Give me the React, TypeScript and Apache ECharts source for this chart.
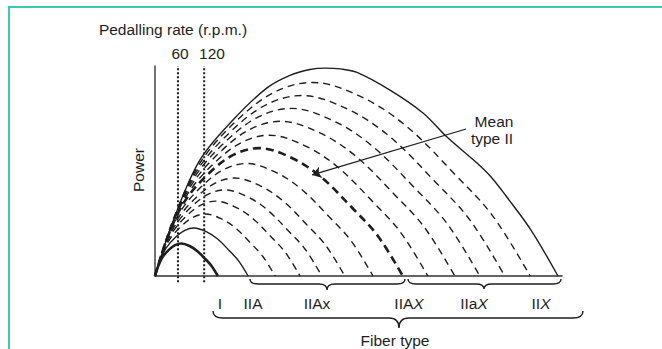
import { useEffect, useRef } from 'react';
import * as echarts from 'echarts';

// ---- data (x: velocity units, outer curve ends at 100; y: power units, outer peak = 100)
const curveI = [[0, 0], [0.78, 4.68], [1.87, 9.11], [3.43, 12.59], [4.99, 14.84], [6.55, 15.6], [8.58, 14.43], [10.45, 12.07], [12.48, 8.17], [14.04, 4.85], [15.6, 0]];
const curveIIA = [[0, 0], [1.16, 6.93], [2.77, 13.49], [5.08, 18.64], [7.39, 21.97], [9.7, 23.1], [12.71, 21.37], [15.48, 17.88], [18.48, 12.1], [20.79, 7.18], [23.1, 0]];
const dashed1 = [[0, 0], [1.49, 8.94], [3.58, 17.4], [6.56, 24.05], [9.54, 28.34], [12.52, 29.8], [16.39, 27.57], [19.97, 23.07], [23.84, 15.62], [26.82, 9.27], [29.8, 0]];
const dashed2 = [[0, 0], [1.8, 10.8], [4.32, 21.02], [7.92, 29.05], [11.52, 34.24], [15.12, 36], [19.8, 33.3], [24.12, 27.86], [28.8, 18.86], [32.4, 11.2], [36, 0]];
const dashed3 = [[0, 0], [2.07, 12.42], [4.97, 24.18], [9.11, 33.41], [13.25, 39.37], [17.39, 41.4], [22.77, 38.3], [27.74, 32.04], [33.12, 21.69], [37.26, 12.88], [41.4, 0]];
const dashed4 = [[0, 0], [2.36, 14.13], [5.65, 27.51], [10.36, 38.01], [15.07, 44.79], [19.78, 47.1], [25.91, 43.57], [31.56, 36.46], [37.68, 24.68], [42.39, 14.65], [47.1, 0]];
const dashed5 = [[0, 0], [2.71, 16.23], [6.49, 31.59], [11.9, 43.66], [17.31, 51.45], [22.72, 54.1], [29.76, 50.04], [36.25, 41.87], [43.28, 28.35], [48.69, 16.83], [54.1, 0]];
const meanTypeII = [[0, 0], [3.08, 18.45], [7.38, 35.92], [13.53, 49.63], [19.68, 58.49], [25.83, 61.5], [33.83, 56.89], [41.21, 47.6], [49.2, 32.23], [55.35, 19.13], [61.5, 0]];
const dashed7 = [[0, 0], [3.39, 20.31], [8.12, 39.54], [14.89, 54.63], [21.66, 64.38], [28.43, 67.7], [37.24, 62.62], [45.36, 52.4], [54.16, 35.47], [60.93, 21.05], [67.7, 0]];
const dashed8 = [[0, 0], [3.72, 22.32], [8.93, 43.45], [16.37, 60.04], [23.81, 70.75], [31.25, 74.4], [40.92, 68.82], [49.85, 57.59], [59.52, 38.99], [66.96, 23.14], [74.4, 0]];
const dashed9 = [[0, 0], [4.03, 24.18], [9.67, 47.07], [17.73, 65.04], [25.79, 76.65], [33.85, 80.6], [44.33, 74.56], [54.0, 62.38], [64.48, 42.23], [72.54, 25.07], [80.6, 0]];
const dashed10 = [[0, 0], [4.34, 26.04], [10.42, 50.69], [19.1, 70.05], [27.78, 82.55], [36.46, 86.8], [47.74, 80.29], [58.16, 67.18], [69.44, 45.48], [78.12, 27.0], [86.8, 0]];
const dashed11 = [[0, 0], [4.66, 27.93], [11.17, 54.37], [20.48, 75.13], [29.79, 88.54], [39.1, 93.1], [51.21, 86.12], [62.38, 72.06], [74.48, 48.78], [83.79, 28.95], [93.1, 0]];
const curveIIX = [[0, 0], [4.96, 28.8], [11.17, 55.8], [19.35, 75.0], [27.79, 90.5], [33.5, 96.5], [38.46, 99.3], [42.2, 100], [46, 99.6], [50.12, 97.9], [58.31, 89.4], [66.5, 78.4], [72.46, 66.8], [79.9, 54.3], [83.4, 47.6], [87.3, 38.0], [93.3, 22.1], [100, 0]];

const rpmX = [5.7, 12.2];
const rpmLabels = ['60', '120'];
const fiberLabels = ['I', 'IIA', 'IIAx', 'IIA{x|X}', 'IIa{x|X}', 'II{x|X}'];
const arrowFrom = [77.2, 70.7];
const arrowTo = [39.0, 48.6];

// ---- layout (pixels)
const FONT = '"Liberation Sans", Arial, Helvetica, sans-serif';
const FS = 15.5;
const INK = '#1e1e1e';
const fiberLabelX = [220, 253, 317, 409, 474, 541];
const rpmLabelX = [180, 212];

function brace(x1: number, x2: number, xm: number, y0: number, h: number, d: number, r: number) {
  return `M${x1} ${y0} Q${x1} ${y0 + h} ${x1 + r} ${y0 + h} L${xm - r} ${y0 + h} Q${xm} ${y0 + h} ${xm} ${y0 + d} ` +
    `Q${xm} ${y0 + h} ${xm + r} ${y0 + h} L${x2 - r} ${y0 + h} Q${x2} ${y0 + h} ${x2} ${y0}`;
}
const bracePath = [
  brace(250, 405, 327, 279, 5, 11, 8),
  brace(408, 561, 484, 279, 5, 10, 8),
  brace(213, 583, 399, 311, 7, 17, 10),
].join(' ');
echarts.graphic.registerShape('braces', echarts.graphic.extendPath(bracePath, {}) as any);

function text(t: string, x: number, y: number, extra: any = {}) {
  return {
    type: 'text', x, y, silent: true, ...extra,
    style: {
      text: t, fill: INK, font: `${FS}px ${FONT}`, align: 'center', verticalAlign: 'middle',
      textAlign: 'center', textVerticalAlign: 'middle',
      rich: { x: { fontStyle: 'italic', fontSize: FS, fontFamily: FONT, fill: INK } },
      ...(extra.style || {}),
    },
  };
}

function curveSeries(data: number[][], kind: 'solid' | 'thick' | 'dash' | 'thickdash') {
  const ls: any = { color: INK, width: 1.4, type: 'solid' };
  if (kind === 'thick') ls.width = 2.6;
  if (kind === 'dash') { ls.type = [7, 5]; ls.width = 1.4; }
  if (kind === 'thickdash') { ls.type = [8, 5]; ls.width = 2.6; }
  return { type: 'line', data, smooth: 0.35, symbol: 'none', silent: true, lineStyle: ls, z: 3 };
}

export default function App() {
  const ref = useRef<HTMLDivElement>(null);
  useEffect(() => {
    const chart = echarts.init(ref.current!, null, { renderer: 'svg' });
    const series: any[] = [
      curveSeries(curveIIX, 'solid'),
      curveSeries(dashed11, 'dash'),
      curveSeries(dashed10, 'dash'),
      curveSeries(dashed9, 'dash'),
      curveSeries(dashed8, 'dash'),
      curveSeries(dashed7, 'dash'),
      curveSeries(meanTypeII, 'thickdash'),
      curveSeries(dashed5, 'dash'),
      curveSeries(dashed4, 'dash'),
      curveSeries(dashed3, 'dash'),
      curveSeries(dashed2, 'dash'),
      curveSeries(dashed1, 'dash'),
      curveSeries(curveIIA, 'solid'),
      curveSeries(curveI, 'thick'),
      ...rpmX.map((x) => ({
        type: 'line', data: [[x, -3], [x, 101]], symbol: 'none', silent: true, clip: false,
        lineStyle: { color: INK, width: 2, type: [2, 2] }, z: 2,
      })),
      {
        type: 'lines', coordinateSystem: 'cartesian2d', silent: true, symbol: ['none', 'arrow'], symbolSize: 9,
        lineStyle: { color: INK, width: 1.3, curveness: 0, opacity: 1 },
        data: [{ coords: [arrowFrom, arrowTo] }], z: 4,
      },
    ];
    const graphic: any[] = [
      text('Pedalling rate (r.p.m.)', 173, 29),
      ...rpmLabels.map((l, i) => text(l, rpmLabelX[i], 53)),
      text('Power', 138, 170, { rotation: Math.PI / 2 }),
      ...fiberLabels.map((l, i) => text(l, fiberLabelX[i], 303)),
      text('Mean', 494, 121),
      text('type II', 492, 138),
      text('Fiber type', 395, 340),
      { type: 'braces', x: 0, y: 0, silent: true, style: { fill: 'none', stroke: INK, lineWidth: 1.4 } },
    ];
    chart.setOption({
      animation: false,
      backgroundColor: '#fff',
      grid: { left: 155, top: 66, width: 407, height: 210, containLabel: false },
      xAxis: {
        type: 'value', min: 0, max: 101,
        axisLine: { show: true, lineStyle: { color: '#333', width: 1.5 } },
        axisTick: { show: false }, axisLabel: { show: false }, splitLine: { show: false },
      },
      yAxis: {
        type: 'value', min: 0, max: 101,
        axisLine: { show: true, lineStyle: { color: '#444', width: 1.5 } },
        axisTick: { show: false }, axisLabel: { show: false }, splitLine: { show: false },
      },
      series,
      graphic,
    });
    return () => chart.dispose();
  }, []);
  return (
    <div style={{ position: 'fixed', left: 0, top: 0, width: 662, height: 349, background: '#fff', overflow: 'hidden' }}>
      <div ref={ref} style={{ width: 662, height: 349 }} />
      <div style={{ position: 'absolute', left: 8, top: 6, width: 700, height: 400, borderTop: '2px solid #3cc9b4', borderLeft: '2px solid #3cc9b4', pointerEvents: 'none' }} />
    </div>
  );
}
